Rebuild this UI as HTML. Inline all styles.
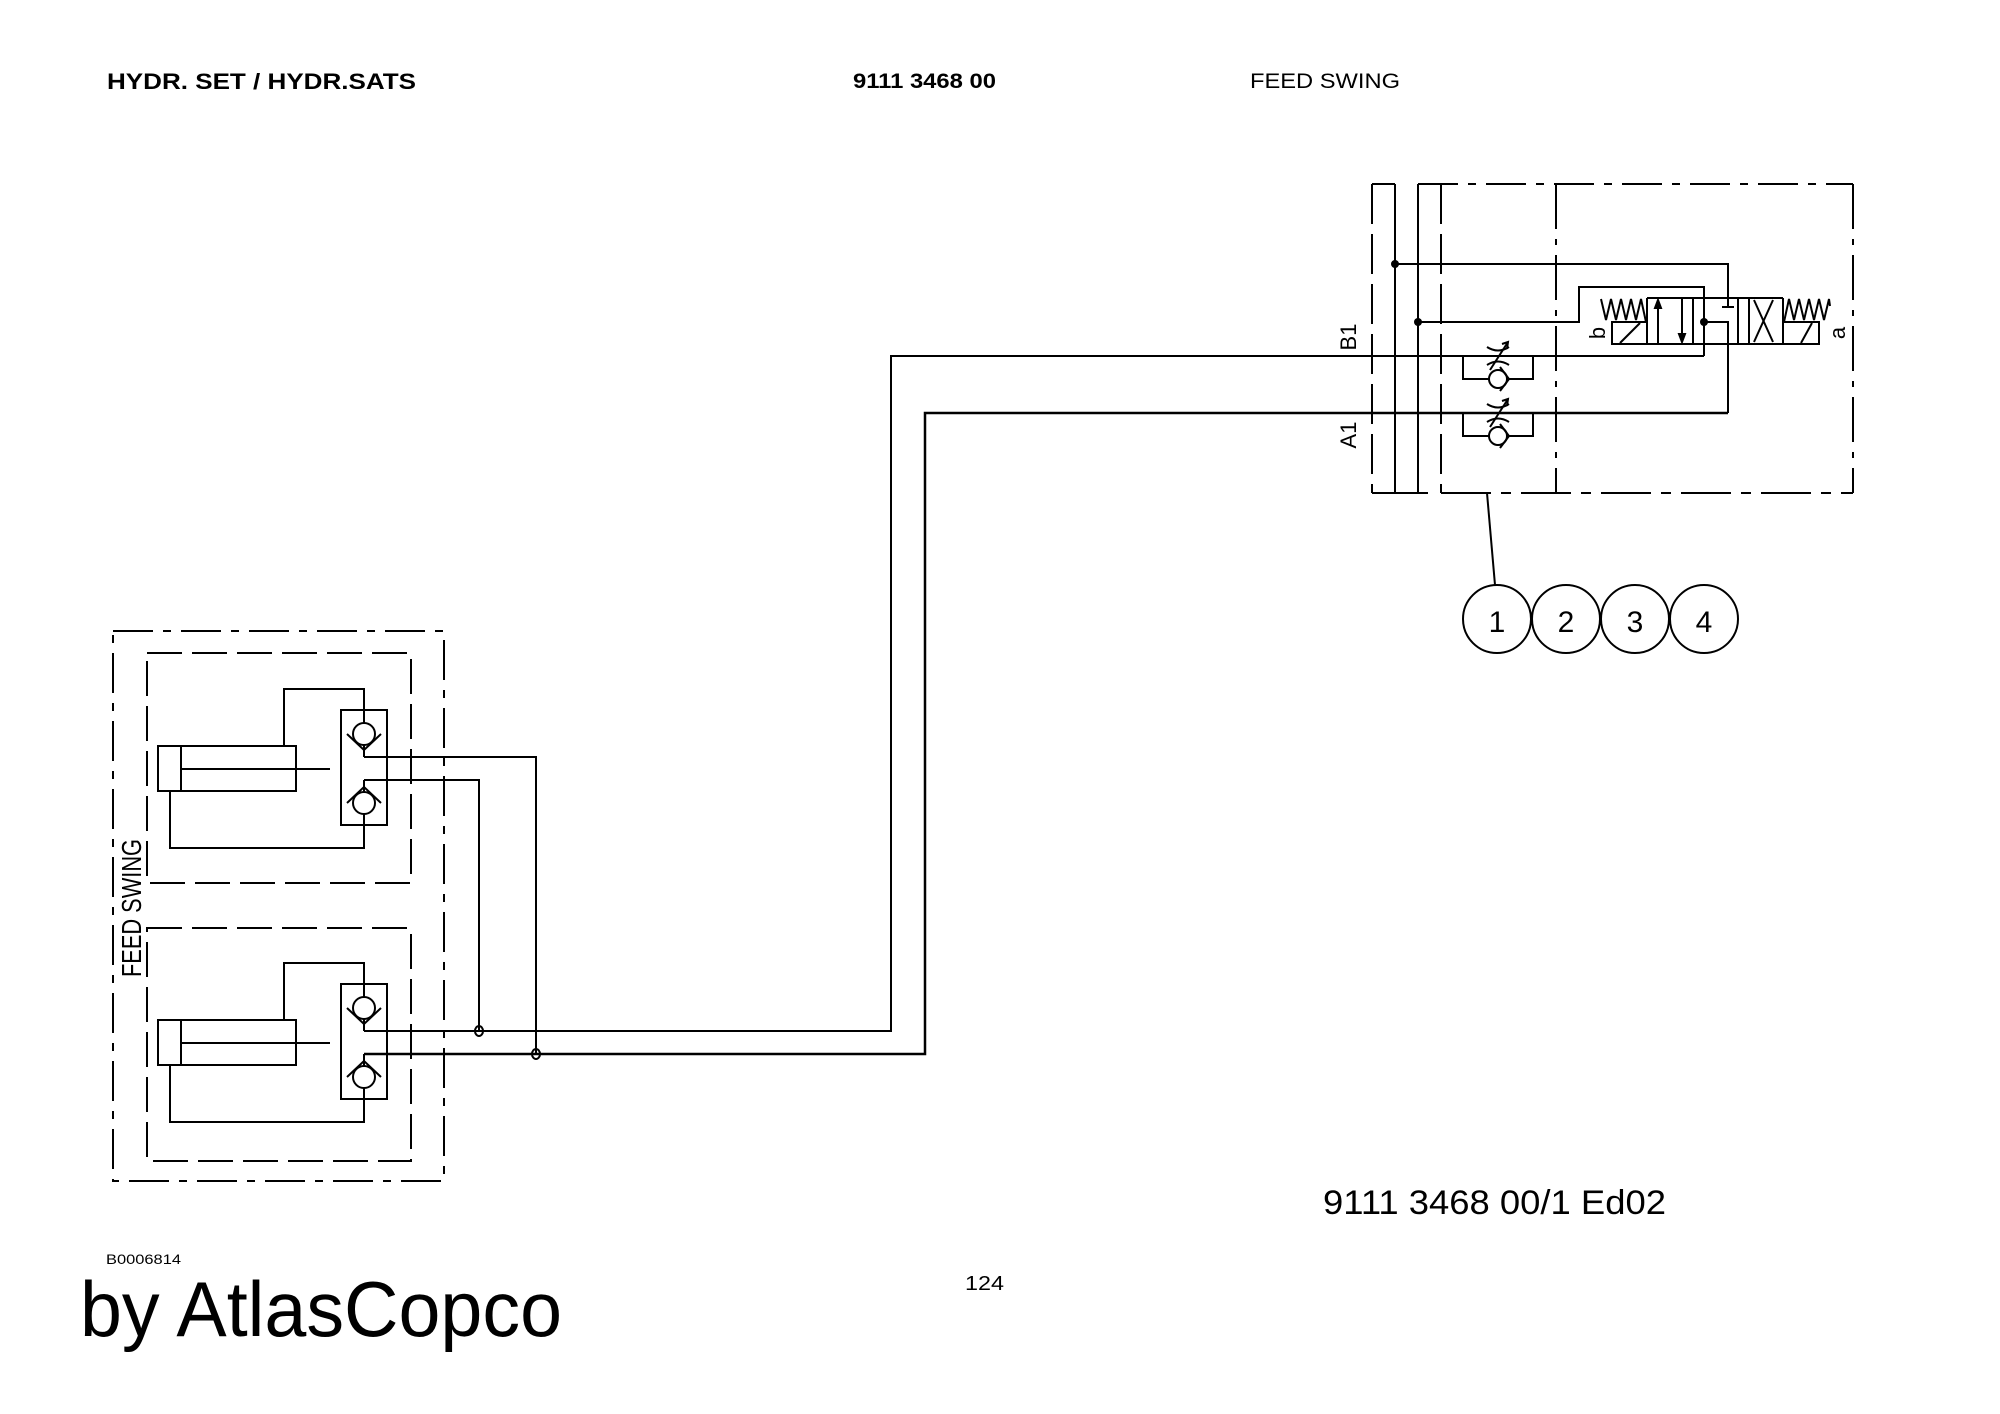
<!DOCTYPE html>
<html><head><meta charset="utf-8"><style>
html,body{margin:0;padding:0;background:#fff;}
svg{display:block;}
text{font-family:"Liberation Sans",sans-serif;fill:#000;}
</style></head><body>
<svg width="2000" height="1414" viewBox="0 0 2000 1414" xmlns="http://www.w3.org/2000/svg">
<g fill="none" stroke="#000" stroke-width="2">
<!-- header -->
</g>
<text x="107" y="89" font-size="22" font-weight="bold" textLength="309" lengthAdjust="spacingAndGlyphs">HYDR. SET / HYDR.SATS</text>
<text x="853" y="88" font-size="21" font-weight="bold" textLength="143" lengthAdjust="spacingAndGlyphs">9111 3468 00</text>
<text x="1250" y="88" font-size="21" textLength="150" lengthAdjust="spacingAndGlyphs">FEED SWING</text>

<!-- RIGHT BLOCK -->
<g fill="none" stroke="#000" stroke-width="2">
  <line x1="1372" y1="184" x2="1372" y2="493" stroke-dasharray="40 10"/>
  <line x1="1372" y1="184" x2="1395" y2="184"/>
  <line x1="1372" y1="493" x2="1428" y2="493"/>
  <line x1="1395" y1="184" x2="1395" y2="493"/>
  <line x1="1418" y1="184" x2="1418" y2="493"/>
  <line x1="1418" y1="184" x2="1853" y2="184" stroke-dasharray="40 10 8 10"/>
  <line x1="1441" y1="184" x2="1441" y2="493" stroke-dasharray="40 10"/>
  <line x1="1441" y1="493" x2="1853" y2="493" stroke-dasharray="50 10 10 10"/>
  <line x1="1556" y1="184" x2="1556" y2="493" stroke-dasharray="45 10 6 10"/>
  <line x1="1853" y1="184" x2="1853" y2="493" stroke-dasharray="45 10 6 10"/>

  <!-- pilot lines -->
  <polyline points="1395,264 1728,264 1728,307"/>
  <line x1="1722" y1="307" x2="1734" y2="307"/>
  <polyline points="1418,322 1579,322 1579,287 1704,287 1704,356"/>
  <polyline points="1704,322 1728,322 1728,413"/>

  <!-- B1 / A1 main lines -->
  <polyline points="364,1031 891,1031 891,356 1704,356"/>
  <polyline points="364,1054 925,1054 925,413 1728,413" stroke-width="2.5"/>

  <!-- restrictor check valves -->
  <rect x="1463" y="356" width="70" height="23"/>
  <rect x="1463" y="413" width="70" height="23"/>
  <g id="rc1">
    <path d="M1487,347 Q1498,354 1509,347"/>
    <path d="M1487,365 Q1498,358 1509,365"/>
    <line x1="1490" y1="370" x2="1508" y2="342"/>
    <path d="M1502,344 L1508,342 L1507,349"/>
    <circle cx="1498" cy="379" r="9" fill="#fff"/>
    <polyline points="1500,367 1509,379 1500,391"/>
  </g>
  <g transform="translate(0,57)">
    <path d="M1487,347 Q1498,354 1509,347"/>
    <path d="M1487,365 Q1498,358 1509,365"/>
    <line x1="1490" y1="370" x2="1508" y2="342"/>
    <path d="M1502,344 L1508,342 L1507,349"/>
    <circle cx="1498" cy="379" r="9" fill="#fff"/>
    <polyline points="1500,367 1509,379 1500,391"/>
  </g>

  <!-- directional valve -->
  <polyline points="1601,299 1606,320 1611,299 1616,320 1621,299 1626,320 1631,299 1636,320 1641,299 1646,322"/>
  <rect x="1612" y="322" width="35" height="22"/>
  <line x1="1620" y1="343" x2="1640" y2="323"/>
  <line x1="1647" y1="298" x2="1783" y2="298"/>
  <line x1="1647" y1="344" x2="1783" y2="344"/>
  <line x1="1647" y1="298" x2="1647" y2="344"/>
  <line x1="1693" y1="298" x2="1693" y2="344"/>
  <line x1="1704" y1="298" x2="1704" y2="344"/>
  <line x1="1658" y1="344" x2="1658" y2="300"/>
  <path d="M1655,308 L1658,300 L1661,308 Z" fill="#000"/>
  <line x1="1682" y1="298" x2="1682" y2="342"/>
  <path d="M1679,334 L1682,342 L1685,334 Z" fill="#000"/>
  <line x1="1738" y1="298" x2="1738" y2="344"/>
  <line x1="1749" y1="298" x2="1749" y2="344"/>
  <line x1="1754" y1="300" x2="1773" y2="342"/>
  <line x1="1773" y1="300" x2="1754" y2="342"/>
  <line x1="1783" y1="298" x2="1783" y2="344"/>
  <rect x="1783" y="322" width="36" height="22"/>
  <line x1="1801" y1="343" x2="1812" y2="323"/>
  <polyline points="1784,322 1789,299 1794,320 1799,299 1804,320 1809,299 1814,320 1819,299 1824,320 1829,299 1830,306"/>

  <!-- leader + balloons -->
  <line x1="1487" y1="493" x2="1495" y2="585"/>
  <circle cx="1497" cy="619" r="34"/>
  <circle cx="1566" cy="619" r="34"/>
  <circle cx="1635" cy="619" r="34"/>
  <circle cx="1704" cy="619" r="34"/>
</g>
<g fill="#000">
  <circle cx="1395" cy="264" r="4"/>
  <circle cx="1418" cy="322" r="4"/>
  <circle cx="1704" cy="322" r="4"/>
</g>
<g font-size="34" text-anchor="middle" fill="#000">
  <text x="1497" y="632" font-family="DejaVu Sans" font-weight="200" font-size="30">1</text>
  <text x="1566" y="632" font-size="30">2</text>
  <text x="1635" y="632" font-size="30">3</text>
  <text x="1704" y="632" font-size="30">4</text>
</g>
<text transform="translate(1356,337) rotate(-90)" font-size="22" text-anchor="middle">B1</text>
<text transform="translate(1356,435) rotate(-90)" font-size="22" text-anchor="middle">A1</text>
<text transform="translate(1605,333) rotate(-90)" font-size="22" text-anchor="middle">b</text>
<text transform="translate(1845,333) rotate(-90)" font-size="22" text-anchor="middle">a</text>

<!-- LEFT BLOCK -->
<g fill="none" stroke="#000" stroke-width="2">
  <rect x="113" y="631" width="331" height="550" stroke-dasharray="40 10 8 10"/>
  <rect x="147" y="653" width="264" height="230" stroke-dasharray="35 10"/>
  <rect x="147" y="928" width="264" height="233" stroke-dasharray="35 10"/>
  <g id="unit">
    <rect x="158" y="746" width="138" height="45"/>
    <line x1="181" y1="746" x2="181" y2="791"/>
    <line x1="181" y1="769" x2="330" y2="769"/>
    <polyline points="284,746 284,689 364,689 364,710"/>
    <polyline points="170,791 170,848 364,848 364,825"/>
    <rect x="341" y="710" width="46" height="115"/>
    <line x1="364" y1="710" x2="364" y2="723"/>
    <circle cx="364" cy="734" r="11"/>
    <polyline points="347,734 364,750 381,734"/>
    <line x1="364" y1="745" x2="364" y2="757"/>
    <line x1="364" y1="780" x2="364" y2="792"/>
    <circle cx="364" cy="803" r="11"/>
    <polyline points="347,803 364,787 381,803"/>
    <line x1="364" y1="814" x2="364" y2="825"/>
  </g>
  <g transform="translate(0,274)">
    <rect x="158" y="746" width="138" height="45"/>
    <line x1="181" y1="746" x2="181" y2="791"/>
    <line x1="181" y1="769" x2="330" y2="769"/>
    <polyline points="284,746 284,689 364,689 364,710"/>
    <polyline points="170,791 170,848 364,848 364,825"/>
    <rect x="341" y="710" width="46" height="115"/>
    <line x1="364" y1="710" x2="364" y2="723"/>
    <circle cx="364" cy="734" r="11"/>
    <polyline points="347,734 364,750 381,734"/>
    <line x1="364" y1="745" x2="364" y2="757"/>
    <line x1="364" y1="780" x2="364" y2="792"/>
    <circle cx="364" cy="803" r="11"/>
    <polyline points="347,803 364,787 381,803"/>
    <line x1="364" y1="814" x2="364" y2="825"/>
  </g>
  <polyline points="364,757 536,757 536,1054"/>
  <polyline points="364,780 479,780 479,1031"/>
  <ellipse cx="479" cy="1031" rx="4" ry="5"/>
  <ellipse cx="536" cy="1054" rx="4" ry="5"/>
</g>
<text transform="translate(141,977) rotate(-90)" font-size="28" textLength="138" lengthAdjust="spacingAndGlyphs">FEED SWING</text>

<!-- footer -->
<text x="1323" y="1214" font-size="34" textLength="343" lengthAdjust="spacingAndGlyphs">9111 3468 00/1  Ed02</text>
<text x="106" y="1264" font-size="14" textLength="75" lengthAdjust="spacingAndGlyphs">B0006814</text>
<text x="965" y="1290" font-size="20" textLength="39" lengthAdjust="spacingAndGlyphs">124</text>
<text x="80" y="1336" font-size="78" textLength="482" lengthAdjust="spacingAndGlyphs">by AtlasCopco</text>
</svg>
</body></html>
